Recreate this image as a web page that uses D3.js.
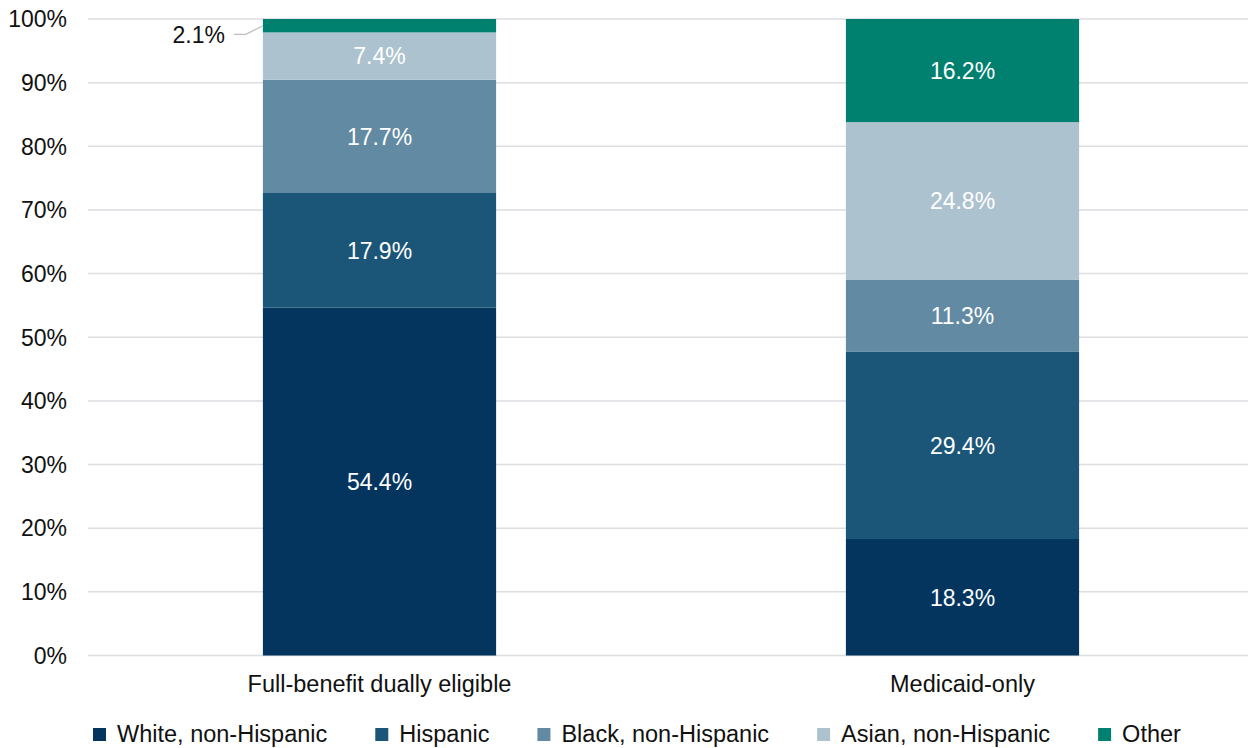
<!DOCTYPE html>
<html>
<head>
<meta charset="utf-8">
<script src="https://cdn.jsdelivr.net/npm/d3@7"></script>
<style>
  body { margin: 0; background: #fff; }
  svg text { font-family: "Liberation Sans", Arial, sans-serif; }
</style>
</head>
<body>
<svg id="chart" width="1248" height="748"></svg>
<script>
var categories = ['Full-benefit dually eligible', 'Medicaid-only'];
var groups = ['White, non-Hispanic', 'Hispanic', 'Black, non-Hispanic', 'Asian, non-Hispanic', 'Other'];
var white = [54.4, 18.3];
var hispanic = [17.9, 29.4];
var black = [17.7, 11.3];
var asian = [7.4, 24.8];
var other = [2.1, 16.2];
var yTicks = [0, 10, 20, 30, 40, 50, 60, 70, 80, 90, 100];
var colors = ['#03355f', '#1b5678', '#628aa3', '#adc2cf', '#00806f'];

var svg = d3.select('#chart');

var rows = categories.map(function (c, i) {
  return {
    cat: c,
    'White, non-Hispanic': white[i],
    'Hispanic': hispanic[i],
    'Black, non-Hispanic': black[i],
    'Asian, non-Hispanic': asian[i],
    'Other': other[i]
  };
});

// 100% stacked, like the original
var series = d3.stack().keys(groups).offset(d3.stackOffsetExpand)(rows);

var x = d3.scaleBand().domain(categories).range([88, 1254])
  .paddingInner(0.6).paddingOuter(0.3);
var y = d3.scaleLinear().domain([0, 1]).range([655.5, 19]);
var color = d3.scaleOrdinal().domain(groups).range(colors);

// gridlines
svg.append('g').selectAll('line')
  .data(yTicks)
  .enter().append('line')
  .attr('x1', 88).attr('x2', 1248)
  .attr('y1', function (d) { return y(d / 100); })
  .attr('y2', function (d) { return y(d / 100); })
  .attr('stroke', '#dddde2')
  .attr('stroke-width', 1.5);

// y axis labels
svg.append('g').selectAll('text')
  .data(yTicks)
  .enter().append('text')
  .attr('x', 67)
  .attr('y', function (d) { return y(d / 100); })
  .attr('dy', '0.36em')
  .attr('text-anchor', 'end')
  .attr('font-size', 23)
  .attr('fill', '#111')
  .text(function (d) { return d + '%'; });

var layer = svg.append('g').selectAll('g')
  .data(series)
  .enter().append('g')
  .attr('fill', function (d) { return color(d.key); });

layer.selectAll('rect')
  .data(function (d) { return d; })
  .enter().append('rect')
  .attr('x', function (d) { return x(d.data.cat); })
  .attr('width', x.bandwidth())
  .attr('y', function (d) { return y(d[1]); })
  .attr('height', function (d) { return y(d[0]) - y(d[1]); });

// value labels
series.forEach(function (s) {
  s.forEach(function (d) {
    var val = d.data[s.key];
    var cx = x(d.data.cat) + x.bandwidth() / 2;
    var cy = (y(d[0]) + y(d[1])) / 2;
    if (val < 3) {
      // small slice: label outside with a leader line
      var bx = x(d.data.cat);
      svg.append('polyline')
        .attr('points', [[bx, cy], [bx - 17, y(0.976)], [bx - 29, y(0.976)]].join(' '))
        .attr('fill', 'none')
        .attr('stroke', '#bfbfbf')
        .attr('stroke-width', 1.3);
      svg.append('text')
        .attr('x', bx - 38)
        .attr('y', y(0.976))
        .attr('dy', '0.36em')
        .attr('text-anchor', 'end')
        .attr('font-size', 23)
        .attr('fill', '#111')
        .text(val.toFixed(1) + '%');
    } else {
      svg.append('text')
        .attr('x', cx)
        .attr('y', cy)
        .attr('dy', '0.36em')
        .attr('text-anchor', 'middle')
        .attr('font-size', 23)
        .attr('fill', '#fff')
        .text(val.toFixed(1) + '%');
    }
  });
});

// category labels
svg.append('g').selectAll('text')
  .data(categories)
  .enter().append('text')
  .attr('x', function (d) { return x(d) + x.bandwidth() / 2; })
  .attr('y', 692)
  .attr('text-anchor', 'middle')
  .attr('font-size', 23.5)
  .attr('fill', '#111')
  .text(function (d) { return d; });

// legend
var lx = 93;
var legend = svg.append('g');
groups.forEach(function (g) {
  legend.append('rect')
    .attr('x', lx).attr('y', 728)
    .attr('width', 13).attr('height', 13)
    .attr('fill', color(g));
  var t = legend.append('text')
    .attr('x', lx + 24)
    .attr('y', 742)
    .attr('font-size', 23.5)
    .attr('fill', '#111')
    .text(g);
  lx += 24 + t.node().getComputedTextLength() + 48;
});
</script>
</body>
</html>
